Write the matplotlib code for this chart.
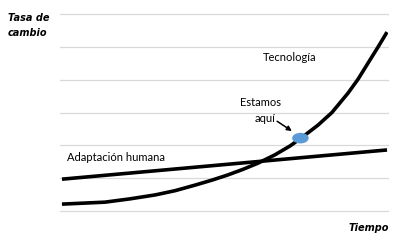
import matplotlib
matplotlib.use("Agg")
import matplotlib.pyplot as plt
from matplotlib.patches import Ellipse

# curve (x: time 0-10, y: rate 0-6)
tec_x = [0.06, 1.37, 2.13, 2.90, 3.51, 4.12, 4.63, 5.12, 5.58, 6.04, 6.55,
         7.01, 7.35, 7.87, 8.29, 8.78, 9.09, 9.45, 9.70, 9.97]
tec_y = [0.21, 0.27, 0.37, 0.49, 0.62, 0.79, 0.94, 1.10, 1.27, 1.46, 1.71,
         1.98, 2.22, 2.62, 3.00, 3.59, 4.02, 4.60, 5.00, 5.45]
hum_x = [0.06, 9.97]
hum_y = [0.97, 1.86]
aqui = (7.33, 2.22)
grid_vals = [0, 1, 2, 3, 4, 5, 6]

fig = plt.figure(figsize=(4, 2.42), dpi=100)
ax = fig.add_axes([0.15, 0.128, 0.82, 0.814])
ax.set_xlim(0, 10)
ax.set_ylim(0, 6)
for s in ax.spines.values():
    s.set_visible(False)
ax.set_xticks([])
ax.set_yticks([])
for g in grid_vals:
    ax.axhline(g, color="#d9d9d9", lw=0.9, zorder=0, clip_on=False)

ax.plot(hum_x, hum_y, color="black", lw=2.6, solid_capstyle="butt", zorder=2)
ax.plot(tec_x, tec_y, color="black", lw=2.6, solid_capstyle="butt",
        solid_joinstyle="round", zorder=2)

# blue dot "we are here"
ax.add_patch(Ellipse(aqui, 0.46, 0.28, color="#5b9bd5", zorder=3))
ax.annotate("", xy=(7.14, 2.39), xytext=(6.55, 2.78),
            arrowprops=dict(arrowstyle="-|>", color="black", lw=1.1,
                            mutation_scale=7))

fnt = "Lato"
ax.text(7.01, 4.69, "Tecnología", fontsize=8, family=fnt, ha="center", va="center")
ax.text(6.10, 3.32, "Estamos", fontsize=8, family=fnt, ha="center", va="center")
ax.text(6.25, 2.83, "aquí", fontsize=8, family=fnt, ha="center", va="center")
ax.text(0.21, 1.64, "Adaptación humana", fontsize=8, family=fnt, ha="left", va="center")

bf = dict(fontsize=7, family="DejaVu Sans", weight="bold", style="italic")
fig.text(0.02, 0.926, "Tasa de", ha="left", va="center", **bf)
fig.text(0.02, 0.864, "cambio", ha="left", va="center", **bf)
fig.text(0.9725, 0.058, "Tiempo", ha="right", va="center", **bf)

fig.savefig("out.png", dpi=100)
